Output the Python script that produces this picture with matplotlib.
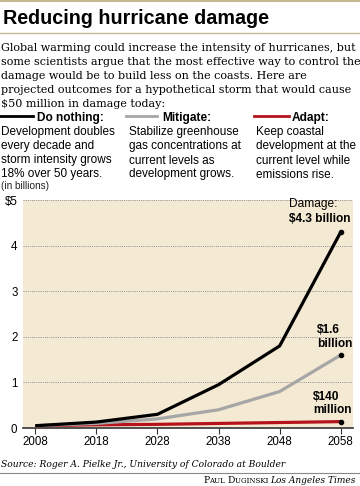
import numpy as np
import matplotlib
matplotlib.use("Agg")
import matplotlib.pyplot as plt
from matplotlib.lines import Line2D

# ---- data ----
years = [2008, 2018, 2028, 2038, 2048, 2058]
do_nothing = [0.05, 0.13, 0.30, 0.95, 1.80, 4.30]
mitigate = [0.05, 0.10, 0.20, 0.40, 0.80, 1.60]
adapt = [0.05, 0.07, 0.08, 0.10, 0.12, 0.14]
y_ticks = [0, 1, 2, 3, 4, 5]
y_tick_labels = ["0", "1", "2", "3", "4", "$5"]

series_names = ["Do nothing:", "Mitigate:", "Adapt:"]
series_desc = [
    ["Development doubles", "every decade and", "storm intensity grows", "18% over 50 years."],
    ["Stabilize greenhouse", "gas concentrations at", "current levels as", "development grows."],
    ["Keep coastal", "development at the", "current level while", "emissions rise."],
]
series_colors = ["#000000", "#a6a6a6", "#b5121b"]

intro = ["Global warming could increase the intensity of hurricanes, but",
         "some scientists argue that the most effective way to control the",
         "damage would be to build less on the coasts. Here are",
         "projected outcomes for a hypothetical storm that would cause",
         "$50 million in damage today:"]

W, H = 360, 486
fig = plt.figure(figsize=(W / 100, H / 100), dpi=100)
fig.patch.set_facecolor("white")


def fx(x):
    return x / W


def fy(y):
    return 1 - y / H


SANS = ["Liberation Sans", "DejaVu Sans"]
NARROW = ["Liberation Sans Narrow", "Liberation Sans", "DejaVu Sans"]
SERIF = ["DejaVu Serif"]
tan = "#c9b894"

# rules
fig.add_artist(Line2D([0, 1], [fy(1), fy(1)], color=tan, lw=1.5))
fig.add_artist(Line2D([0, 1], [fy(33), fy(33)], color=tan, lw=1.0))
fig.add_artist(Line2D([0, 1], [fy(473), fy(473)], color="#888888", lw=0.8))

fig.text(fx(3), fy(24.5), "Reducing hurricane damage", fontsize=14.2,
         fontweight="bold", family=NARROW, va="baseline", ha="left")

for i, line in enumerate(intro):
    fig.text(fx(1), fy(51 + 14 * i), line, fontsize=8.0, family=SERIF,
             va="baseline", ha="left")

# legend headers
line_x = [(0, 33), (126, 157), (254, 289)]
head_x = [37, 162, 292]
col_x = [0, 128, 255]
for i in range(3):
    fig.add_artist(Line2D([fx(line_x[i][0]), fx(line_x[i][1])], [fy(116), fy(116)],
                          color=series_colors[i], lw=2.0))
    fig.text(fx(head_x[i]), fy(120.5), series_names[i], fontsize=8.6,
             fontweight="bold", family=SANS, va="baseline", ha="left")
    for j, line in enumerate(series_desc[i]):
        fig.text(fx(col_x[i] + 1), fy(135.5 + 14 * j), line, fontsize=8.5,
                 family=SANS, va="baseline", ha="left")

fig.text(fx(1), fy(189), "(in billions)", fontsize=7.2, family=SANS,
         va="baseline", ha="left", color="#222222")

# ---- chart ----
ax = fig.add_axes([fx(23), fy(428), fx(353) - fx(23), (428 - 200) / H])
ax.set_facecolor("#f4e9d2")
ax.set_xlim(2006.0, 2060.0)
ax.set_ylim(0, 5)

for v in y_ticks[1:]:
    ax.axhline(v, color="#8f8f8f", lw=0.7, ls=(0, (1, 1.2)), zorder=1)

ax.plot(years, adapt, color=series_colors[2], lw=2.3, zorder=3,
        solid_capstyle="butt")
ax.plot(years, mitigate, color=series_colors[1], lw=2.3, zorder=4,
        solid_capstyle="butt")
ax.plot(years, do_nothing, color=series_colors[0], lw=2.3, zorder=5,
        solid_capstyle="butt")
ax.scatter([years[-1]] * 3, [do_nothing[-1], mitigate[-1], adapt[-1]],
           color="black", s=9, zorder=6)

for side in ["left", "right", "top"]:
    ax.spines[side].set_visible(False)
ax.spines["bottom"].set_color("#333333")
ax.spines["bottom"].set_linewidth(1.2)

ax.set_xticks(years)
ax.set_xticklabels([str(y) for y in years], fontsize=8.3, family=SANS)
ax.tick_params(axis="x", length=4, width=0.8, color="#333333", pad=1.5)
ax.set_yticks(y_ticks)
ax.set_yticklabels(y_tick_labels, fontsize=8.3, family=SANS)
ax.tick_params(axis="y", length=0, pad=4)

ax.text(2049.5, 4.84, "Damage:", fontsize=8.6, family=SANS, ha="left",
        va="baseline")
ax.text(2049.5, 4.51, "$4.3 billion", fontsize=8.6, family=SANS,
        fontweight="bold", ha="left", va="baseline")
ax.text(2054.1, 2.08, "$1.6", fontsize=8.6, family=SANS,
        fontweight="bold", ha="left", va="baseline")
ax.text(2054.1, 1.78, "billion", fontsize=8.6, family=SANS,
        fontweight="bold", ha="left", va="baseline")
ax.text(2053.5, 0.61, "$140", fontsize=8.6, family=SANS,
        fontweight="bold", ha="left", va="baseline")
ax.text(2053.5, 0.33, "million", fontsize=8.6, family=SANS,
        fontweight="bold", ha="left", va="baseline")

fig.text(fx(1), fy(466.5), "Source: Roger A. Pielke Jr., University of Colorado at Boulder",
         fontsize=6.6, family=SERIF, style="italic", va="baseline", ha="left")

# footer credit with small caps
fig.canvas.draw()
renderer = fig.canvas.get_renderer()
pieces = [("P", 6.7, "normal"), ("AUL ", 5.1, "normal"), ("D", 6.7, "normal"),
          ("UGINSKI ", 5.1, "normal"), ("Los Angeles Times", 6.5, "italic")]
xpos = 203
for txt, size, st in pieces:
    t = fig.text(fx(xpos), fy(482.5), txt, fontsize=size, family=SERIF,
                 style=st, va="baseline", ha="left")
    bb = t.get_window_extent(renderer)
    xpos += bb.width

fig.savefig("out.png", dpi=100, facecolor="white")
